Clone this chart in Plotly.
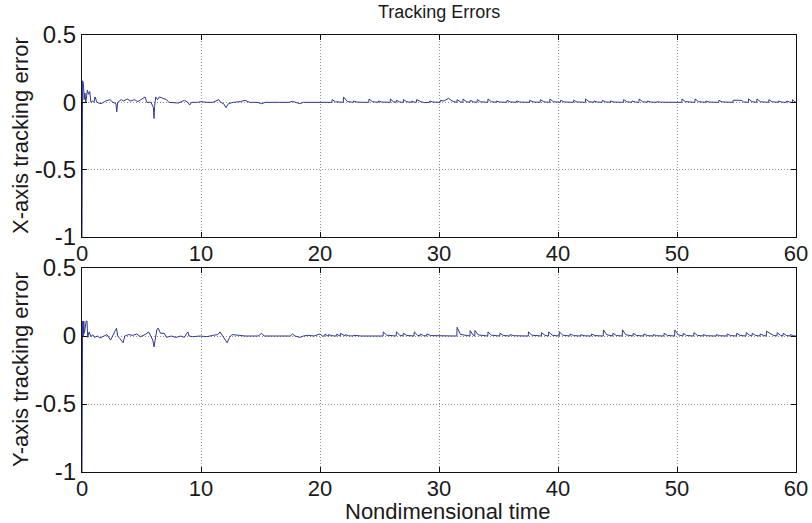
import plotly.graph_objects as go
from plotly.subplots import make_subplots

# ---- data ----
x_tick_values = [0, 10, 20, 30, 40, 50, 60]
y_tick_values = [-1, -0.5, 0, 0.5]
y_tick_labels = ["-1", "-0.5", "0", "0.5"]

# X-axis tracking error: (nondimensional time, error)
x_error_points = [
    (0, -1.0), (0.05, 0.16), (0.12, 0.14), (0.18, 0.02), (0.25, 0.07), (0.32, 0.0),
    (0.45, 0.09), (0.55, 0.06), (0.65, 0.08), (0.75, 0.0), (0.9, 0.01), (1.0, 0.0),
    (1.1, 0.04), (1.25, 0.0), (1.6, -0.01), (2.0, 0.01), (2.35, 0.02), (2.6, 0.0),
    (2.85, -0.01), (2.92, -0.07), (3.0, 0.0), (3.3, 0.02), (3.5, 0.01), (3.8, 0.025),
    (4.1, 0.01), (4.4, 0.02), (4.7, 0.005), (5.0, 0.02), (5.3, 0.04), (5.45, 0.0),
    (5.8, 0.0), (6.0, -0.04), (6.05, -0.12), (6.1, -0.03), (6.2, 0.04), (6.35, 0.02),
    (6.5, 0.04), (6.8, 0.03), (7.1, 0.02), (7.3, 0.0), (7.7, 0.0), (8.1, -0.005),
    (8.6, 0.015), (8.9, 0.0), (9.05, -0.02), (9.2, 0.0), (9.7, 0.0), (10.0, 0.005),
    (10.5, 0.0), (11.0, 0.0), (11.5, 0.02), (11.65, 0.0), (11.9, -0.01), (12.1, -0.04),
    (12.3, -0.01), (12.7, 0.0), (13.3, 0.005), (13.7, 0.015), (14.1, 0.0), (14.7, 0.0),
    (15.1, -0.01), (15.4, 0.0), (16.5, 0.0), (17.4, 0.0), (17.7, 0.007), (18.0, 0.0),
    (18.3, -0.01), (18.6, 0.0), (19.5, 0.0), (20.0, 0.005), (20.6, 0.0),
    (21.0, 0.0), (21.02, 0.02), (21.3, 0.004),
    (21.96, 0.0), (21.98, 0.04), (22.3, 0.006),
    (22.8, 0.0), (22.82, 0.01), (23.1, 0.002), (23.6, 0.0),
    (24.1, 0.0), (24.12, 0.025), (24.4, 0.005),
    (24.9, 0.0), (24.92, 0.01), (25.2, 0.002),
    (25.9, 0.0), (25.92, 0.025), (26.15, 0.005),
    (26.4, 0.0), (26.42, 0.015), (26.7, 0.003),
    (27.0, 0.0), (27.02, 0.02), (27.3, 0.004),
    (27.7, 0.0), (27.72, 0.01), (27.9, 0.002),
    (28.1, 0.0), (28.12, 0.02), (28.5, 0.004), (28.8, -0.002),
    (29.2, 0.0), (29.22, 0.01), (29.5, 0.002),
    (30.1, 0.0), (30.12, 0.015), (30.4, 0.01), (30.8, 0.03), (31.1, 0.01),
    (31.5, 0.0), (31.52, 0.02), (31.8, 0.004),
    (32.0, 0.0), (32.02, 0.025), (32.3, 0.005),
    (32.6, 0.0), (32.62, 0.015), (32.9, 0.003),
    (33.2, 0.0), (33.22, 0.02), (33.5, 0.004),
    (34.1, 0.0), (34.12, 0.025), (34.4, 0.005),
    (34.8, 0.0), (34.82, 0.01), (35.1, 0.002),
    (35.7, 0.0), (35.72, 0.015), (36.0, 0.003),
    (36.5, 0.0), (36.52, 0.01), (36.8, 0.002),
    (37.6, 0.0), (37.62, 0.015), (37.9, 0.003),
    (38.5, 0.0), (38.52, 0.02), (38.8, 0.004),
    (39.3, 0.0), (39.32, 0.025), (39.6, 0.005),
    (40.2, 0.0), (40.22, 0.015), (40.5, 0.003),
    (41.3, 0.0), (41.32, 0.015), (41.6, 0.003),
    (42.3, 0.0), (42.32, 0.025), (42.6, 0.005),
    (43.0, 0.0), (43.02, 0.01), (43.3, 0.002),
    (43.7, 0.0), (43.72, 0.015), (44.0, 0.003),
    (44.4, 0.0), (44.42, 0.01), (44.7, 0.002),
    (45.5, 0.0), (45.52, 0.02), (45.8, 0.004),
    (46.2, 0.0), (46.22, 0.01), (46.5, 0.002),
    (46.8, 0.0), (46.82, 0.025), (47.1, 0.005),
    (47.5, 0.0), (47.52, 0.01), (47.8, 0.002),
    (48.3, 0.0), (48.32, 0.005), (48.6, 0.001),
    (49.2, 0.0), (49.22, 0.005), (49.5, 0.001),
    (50.4, 0.0), (50.42, 0.025), (50.7, 0.005),
    (51.5, 0.0), (51.52, 0.025), (51.8, 0.005),
    (52.4, 0.0), (52.42, 0.01), (52.7, 0.002),
    (53.5, 0.0), (53.52, 0.015), (53.8, 0.003),
    (54.7, 0.0), (54.72, 0.015), (55.4, 0.015), (55.6, 0.003),
    (56.0, 0.0), (56.02, 0.025), (56.3, 0.005),
    (56.7, 0.0), (56.72, 0.025), (57.0, 0.005),
    (57.7, 0.0), (57.72, 0.02), (58.0, 0.004),
    (58.5, 0.0), (58.52, 0.01), (58.8, 0.002),
    (59.2, 0.0), (59.22, 0.01), (59.45, 0.002),
    (59.7, 0.0), (59.72, 0.02), (59.9, 0.004), (60.0, 0.0),
]

# Y-axis tracking error: (nondimensional time, error)
y_error_points = [
    (0, -1.0), (0.05, 0.11), (0.1, 0.0), (0.15, 0.11), (0.2, 0.02), (0.35, 0.11),
    (0.42, 0.11), (0.48, -0.01), (0.6, 0.03), (0.75, -0.005), (0.9, 0.01), (1.05, -0.01),
    (1.3, 0.0), (1.5, -0.015), (1.8, 0.0), (2.1, 0.01), (2.4, -0.03), (2.6, 0.0),
    (2.8, 0.04), (2.9, 0.057), (3.0, 0.0), (3.2, -0.02), (3.45, -0.05), (3.6, 0.0),
    (3.9, 0.01), (4.3, 0.005), (4.6, 0.015), (4.9, -0.005), (5.3, 0.01), (5.6, 0.03),
    (5.75, 0.0), (5.95, -0.03), (6.05, -0.08), (6.15, -0.02), (6.3, 0.05), (6.4, 0.057),
    (6.6, 0.02), (6.9, 0.02), (7.1, -0.01), (7.5, 0.0), (7.9, -0.01), (8.3, 0.0),
    (8.6, -0.01), (8.8, 0.02), (8.9, 0.03), (9.0, 0.0), (9.3, -0.005), (9.9, 0.0),
    (10.5, -0.005), (11.0, 0.005), (11.4, 0.01), (11.6, 0.03), (11.8, 0.0), (12.0, -0.02),
    (12.2, -0.05), (12.4, -0.01), (12.6, 0.01), (13.2, 0.005), (13.7, 0.0), (14.3, 0.0),
    (14.8, 0.0), (15.1, 0.02), (15.3, 0.0), (16.0, 0.0), (17.0, 0.0), (17.5, 0.0),
    (17.7, 0.015), (17.9, 0.0), (18.3, -0.01), (18.6, 0.0), (19.0, 0.005), (19.5, 0.0),
    (20.0, 0.015), (20.2, 0.0),
    (20.4, 0.0), (20.42, 0.015), (20.6, 0.003),
    (20.7, 0.0), (20.72, 0.01), (21.0, 0.002),
    (21.4, 0.0), (21.42, 0.015), (21.6, 0.003),
    (21.7, 0.0), (21.72, 0.02), (21.95, 0.004),
    (22.1, 0.0), (22.12, 0.01), (22.4, 0.002),
    (22.8, 0.0), (22.82, 0.005), (23.5, 0.0),
    (24.2, 0.0), (24.22, 0.005), (24.8, 0.0),
    (25.3, 0.0), (25.32, 0.03), (25.6, 0.006),
    (26.4, 0.0), (26.42, 0.03), (26.7, 0.006),
    (26.98, 0.0), (27.0, 0.02), (27.3, 0.004),
    (27.9, 0.0), (27.92, 0.03), (28.2, 0.006),
    (28.4, 0.0), (28.42, 0.015), (28.7, 0.003),
    (28.96, 0.0), (28.98, 0.015), (29.3, 0.003),
    (30.1, 0.0), (30.12, 0.005), (30.6, 0.0),
    (31.5, 0.0), (31.52, 0.064), (31.8, 0.012),
    (32.6, 0.0), (32.62, 0.04), (32.85, 0.008),
    (33.0, 0.0), (33.02, 0.04), (33.3, 0.008),
    (34.1, 0.0), (34.12, 0.03), (34.4, 0.006),
    (35.1, 0.0), (35.12, 0.02), (35.4, 0.004),
    (35.96, 0.0), (35.98, 0.01), (36.3, 0.002),
    (37.5, 0.0), (37.52, 0.03), (37.8, 0.006),
    (38.6, 0.0), (38.62, 0.025), (38.9, 0.005),
    (39.2, 0.0), (39.22, 0.03), (39.5, 0.006),
    (40.1, 0.0), (40.12, 0.03), (40.4, 0.006),
    (41.0, 0.0), (41.02, 0.015), (41.3, 0.003),
    (41.9, 0.0), (41.92, 0.01), (42.2, 0.002),
    (42.8, 0.0), (42.82, 0.015), (43.1, 0.003),
    (43.8, 0.0), (43.82, 0.045), (44.1, 0.009),
    (44.6, 0.0), (44.62, 0.02), (44.9, 0.004),
    (45.4, 0.0), (45.42, 0.045), (45.7, 0.009),
    (46.3, 0.0), (46.32, 0.02), (46.6, 0.004),
    (47.2, 0.0), (47.22, 0.015), (47.5, 0.003),
    (48.0, 0.0), (48.02, 0.01), (48.3, 0.002),
    (48.9, 0.0), (48.92, 0.02), (49.2, 0.004),
    (49.8, 0.0), (49.82, 0.045), (50.1, 0.009),
    (50.5, 0.0), (50.52, 0.02), (50.8, 0.004),
    (51.4, 0.0), (51.42, 0.025), (51.7, 0.005),
    (52.2, 0.0), (52.22, 0.01), (52.5, 0.002),
    (53.3, 0.0), (53.32, 0.01), (53.6, 0.002),
    (54.2, 0.0), (54.22, 0.015), (54.5, 0.003),
    (55.0, 0.0), (55.02, 0.02), (55.3, 0.004),
    (55.8, 0.0), (55.82, 0.025), (56.1, 0.005),
    (56.3, 0.0), (56.32, 0.02), (56.6, 0.004),
    (56.97, 0.0), (56.99, 0.015), (57.3, 0.003),
    (57.5, 0.0), (57.52, 0.035), (57.8, 0.02), (58.1, 0.005),
    (58.4, 0.0), (58.42, 0.025), (58.7, 0.005),
    (58.9, 0.0), (58.92, 0.02), (59.2, 0.004),
    (59.5, 0.0), (59.52, 0.01), (59.8, 0.002), (60.0, 0.0),
]

title_text = "Tracking Errors"
x_axis_title = "Nondimensional time"
y_titles = ["X-axis tracking error", "Y-axis tracking error"]

# ---- figure ----
line_color = "#2e3a92"
text_color = "#1a1a1a"
font_family = "Liberation Sans, Arial, sans-serif"

W, H = 812, 523
ML, MR, MT, MB = 82, 16, 35, 51
plot_w = W - ML - MR
plot_h = H - MT - MB


def px_to_paper_x(px):
    return (px - ML) / plot_w


def px_to_paper_y(py):
    return (H - MB - py) / plot_h


fig = make_subplots(rows=2, cols=1, shared_xaxes=False, vertical_spacing=0.07)

for row, pts in ((1, x_error_points), (2, y_error_points)):
    t_vals = [p[0] for p in pts]
    e_vals = [p[1] for p in pts]
    fig.add_trace(
        go.Scatter(x=t_vals, y=e_vals, mode="lines",
                   line=dict(color=line_color, width=1), showlegend=False),
        row=row, col=1)

axis_common = dict(
    showline=True, linecolor="#111111", linewidth=1.4, mirror="ticks",
    ticks="inside", ticklen=5, tickcolor="#111111", tickwidth=1,
    showgrid=True, gridcolor="#909090", griddash="1px,2px", gridwidth=1,
    zeroline=False, automargin=False,
)

for row in (1, 2):
    fig.update_xaxes(range=[0, 60], tickvals=x_tick_values, ticklabelstandoff=-4,
                     tickfont=dict(family=font_family, size=22, color=text_color),
                     **axis_common, row=row, col=1)
    fig.update_yaxes(range=[-1, 0.5], tickvals=y_tick_values, ticktext=y_tick_labels,
                     tickfont=dict(family=font_family, size=24, color=text_color),
                     **axis_common, row=row, col=1)

fig.update_layout(
    xaxis=dict(domain=[0, 1]),
    xaxis2=dict(domain=[0, 1]),
    yaxis=dict(domain=[px_to_paper_y(237), 1.0]),
    yaxis2=dict(domain=[0.0, px_to_paper_y(268)]),
)

annotations = [
    dict(text=y_titles[0], x=px_to_paper_x(20), y=px_to_paper_y(136),
         textangle=-90),
    dict(text=y_titles[1], x=px_to_paper_x(20), y=px_to_paper_y(370),
         textangle=-90),
    dict(text=x_axis_title, x=px_to_paper_x(448), y=px_to_paper_y(512),
         font=dict(family=font_family, size=22, color=text_color)),
    dict(text=title_text, x=px_to_paper_x(439), y=px_to_paper_y(12),
         font=dict(family=font_family, size=18, color=text_color)),
]
for a in annotations:
    a.setdefault("font", dict(family=font_family, size=22, color=text_color))
    a.update(xref="paper", yref="paper", xanchor="center", yanchor="middle",
             showarrow=False)

fig.update_layout(
    width=W, height=H,
    margin=dict(l=ML, r=MR, t=MT, b=MB),
    paper_bgcolor="white", plot_bgcolor="white",
    annotations=annotations,
)

fig.write_html(
    "out.html",
    config={"displayModeBar": False},
    post_script="document.body.style.margin='0px';document.body.style.overflow='hidden';",
)
